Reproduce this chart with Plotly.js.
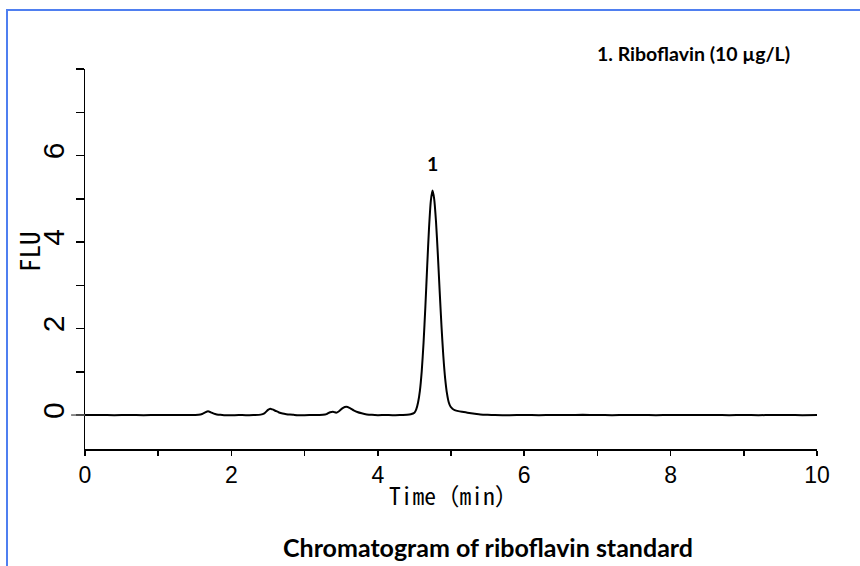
<!DOCTYPE html>
<html>
<head>
<meta charset="utf-8">
<script src="https://cdn.plot.ly/plotly-3.0.1.min.js"></script>
<style>
  html, body { margin: 0; padding: 0; background: #fff; }
  #wrap { position: relative; width: 860px; height: 566px; }
  #chart { width: 860px; height: 566px; }
  #frame { position: absolute; left: 6px; top: 9px; width: 900px; height: 600px;
           border-left: 2px solid #4f7ff0; border-top: 2px solid #4f7ff0; pointer-events: none; }
</style>
</head>
<body>
<div id="wrap">
  <div id="chart"></div>
  <div id="frame"></div>
</div>
<script>
// Retention time (min)
const time = [
  0.00, 0.20, 0.40, 0.60, 0.80, 1.00, 1.20, 1.40, 1.50,
  1.55, 1.60, 1.65, 1.68, 1.72, 1.76, 1.80, 1.85, 1.90,
  2.00, 2.10, 2.20, 2.30, 2.40,
  2.45, 2.50, 2.53, 2.56, 2.60, 2.65, 2.70, 2.75, 2.80, 2.85,
  2.90, 3.00, 3.10, 3.20, 3.25,
  3.30, 3.35, 3.40, 3.43, 3.47, 3.52, 3.57, 3.62, 3.67, 3.72, 3.78, 3.85, 3.92,
  4.00, 4.10, 4.20, 4.30, 4.40, 4.45,
  4.50, 4.525, 4.55, 4.575, 4.60, 4.625, 4.65, 4.675, 4.70, 4.725, 4.747,
  4.77, 4.795, 4.82, 4.845, 4.87, 4.895, 4.92, 4.945, 4.97, 4.995,
  5.02, 5.05, 5.10, 5.15, 5.20, 5.25, 5.30, 5.35, 5.40, 5.50,
  5.60, 5.80, 6.00, 6.20, 6.40, 6.60, 6.80, 7.00, 7.20, 7.40, 7.60, 7.80,
  8.00, 8.20, 8.40, 8.60, 8.80, 9.00, 9.20, 9.40, 9.60, 9.80, 10.00
];
// Fluorescence signal (FLU)
const flu = [
  0.000, 0.002, -0.003, 0.001, -0.002, 0.000, 0.003, -0.001, 0.002,
  0.006, 0.025, 0.068, 0.085, 0.062, 0.032, 0.015, 0.004, -0.002,
  -0.004, 0.000, -0.003, 0.002, 0.010,
  0.040, 0.118, 0.145, 0.130, 0.100, 0.060, 0.035, 0.020, 0.010, 0.004,
  -0.002, -0.004, 0.000, 0.002, 0.006,
  0.022, 0.065, 0.072, 0.055, 0.088, 0.160, 0.190, 0.160, 0.110, 0.070, 0.040, 0.015, 0.004,
  -0.002, 0.000, -0.003, 0.001, 0.008, 0.020,
  0.055, 0.130, 0.290, 0.560, 1.010, 1.670, 2.510, 3.450, 4.330, 4.960, 5.190,
  5.000, 4.480, 3.720, 2.870, 2.060, 1.370, 0.850, 0.500, 0.290, 0.190,
  0.145, 0.115, 0.090, 0.075, 0.062, 0.048, 0.035, 0.022, 0.012, 0.004,
  0.000, -0.003, 0.002, -0.002, 0.003, -0.001, 0.004, 0.000, -0.003, 0.003, 0.001, -0.002,
  0.002, -0.001, 0.003, 0.000, -0.002, 0.002, -0.003, 0.001, 0.000, -0.002, 0.001
];

const xTickVals = [0, 1, 2, 3, 4, 5, 6, 7, 8, 9, 10];
const xTickText = ['0', '', '2', '', '4', '', '6', '', '8', '', '10'];
const yTickVals = [0, 1, 2, 3, 4, 5, 6, 7, 8];
const yTickText = ['0', '', '2', '', '4', '', '6', '', ''];

const peakLabels = ['1'];
const peakTimes = [4.747];
const peakLabelY = [5.82];

const legendText = '1. Riboflavin (10 µg/L)';
const captionText = 'Chromatogram of riboflavin standard';
const xTitle = 'Time（min）';
const yTitle = 'FLU';

const trace = {
  x: time, y: flu, type: 'scatter', mode: 'lines',
  line: { color: '#000000', width: 2, shape: 'spline', smoothing: 0.6 },
  hoverinfo: 'skip', showlegend: false
};

const boldFont = { family: 'Lato, "Open Sans", sans-serif', size: 19.5, color: '#000' };
const monoFont = '"Noto Sans Mono CJK JP", "DejaVu Sans Mono", "Noto Sans CJK JP", monospace';

const annotations = peakLabels.map((t, i) => ({
  x: peakTimes[i], y: peakLabelY[i], xref: 'x', yref: 'y', text: '<b>' + t + '</b>',
  showarrow: false, font: boldFont, xanchor: 'center', yanchor: 'middle'
}));
annotations.push({
  x: 0.831, y: 1.042, xref: 'paper', yref: 'paper', text: '<b>' + legendText + '</b>',
  showarrow: false, font: boldFont, xanchor: 'center', yanchor: 'middle'
});
annotations.push({
  x: 0.55, y: -0.258, xref: 'paper', yref: 'paper', text: '<b>' + captionText + '</b>',
  showarrow: false, font: { family: 'Lato, "Open Sans", sans-serif', size: 25, color: '#000' },
  xanchor: 'center', yanchor: 'middle'
});
// axis titles placed as annotations for exact positioning
annotations.push({
  x: 0.503, y: -0.121, xref: 'paper', yref: 'paper', text: xTitle,
  showarrow: false, font: { family: monoFont, size: 23.5, color: '#000' },
  xanchor: 'center', yanchor: 'middle'
});
annotations.push({
  x: -0.077, y: 0.52, xref: 'paper', yref: 'paper', text: yTitle, textangle: -90,
  showarrow: false, font: { family: monoFont, size: 27, color: '#000' },
  xanchor: 'center', yanchor: 'middle'
});

const layout = {
  width: 860, height: 566,
  margin: { l: 85, r: 43.3, t: 69, b: 117, pad: 0 },
  paper_bgcolor: '#fff', plot_bgcolor: '#fff',
  showlegend: false,
  xaxis: {
    range: [0, 10], showgrid: false, zeroline: false,
    showline: true, linecolor: '#000', linewidth: 1.5,
    ticks: 'outside', ticklen: 5, tickwidth: 1.5, tickcolor: '#000',
    tickvals: xTickVals, ticktext: xTickText,
    tickfont: { family: '"Liberation Sans", Arial, sans-serif', size: 23, color: '#000' },
    automargin: false
  },
  yaxis: {
    range: [-0.785, 8], showgrid: false, zeroline: false,
    showline: true, linecolor: '#000', linewidth: 1.5,
    ticks: 'outside', ticklen: 8, tickwidth: 1.5, tickcolor: '#000',
    tickvals: yTickVals, ticktext: yTickText, tickangle: -90,
    tickfont: { family: '"Liberation Sans", Arial, sans-serif', size: 30, color: '#000' },
    automargin: false
  },
  shapes: [{
    type: 'line', xref: 'paper', yref: 'y', x0: -0.019, x1: 0, y0: 0, y1: 0,
    line: { color: '#666', width: 1.5 }
  }],
  annotations: annotations
};

Plotly.newPlot('chart', [trace], layout, { displayModeBar: false, staticPlot: true });
</script>
</body>
</html>
